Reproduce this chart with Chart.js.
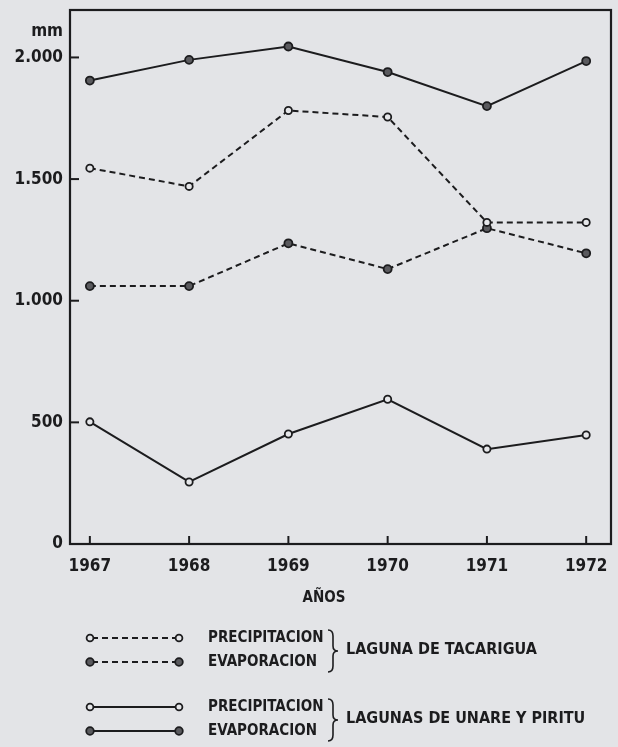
<!DOCTYPE html>
<html>
<head>
<meta charset="utf-8">
<script src="https://cdn.jsdelivr.net/npm/chart.js@4.4.1/dist/chart.umd.min.js"></script>
<style>
  html, body { margin: 0; padding: 0; background: #e3e4e7; }
  #wrap { width: 618px; height: 747px; }
</style>
</head>
<body>
<div id="wrap"><canvas id="c" width="618" height="747"></canvas></div>
<script>
// ---- data ----
const years = [1967, 1968, 1969, 1970, 1971, 1972];
const tacarigua_precipitacion = [1545, 1470, 1782, 1755, 1322, 1322];
const tacarigua_evaporacion   = [1060, 1060, 1236, 1130, 1298, 1195];
const unare_precipitacion     = [502, 255, 452, 595, 390, 448];
const unare_evaporacion       = [1905, 1990, 2045, 1940, 1800, 1985];
const yTickValues = [0, 500, 1000, 1500, 2000];
const yTickLabels = ['0', '500', '1.000', '1.500', '2.000'];
const xTitle = 'AÑOS';
const yUnit = 'mm';
const legendRows = [
  { label: 'PRECIPITACION', dashed: true,  filled: false },
  { label: 'EVAPORACION',   dashed: true,  filled: true  },
  { label: 'PRECIPITACION', dashed: false, filled: false },
  { label: 'EVAPORACION',   dashed: false, filled: true  }
];
const legendGroups = ['LAGUNA DE TACARIGUA', 'LAGUNAS DE UNARE Y PIRITU'];

const FONT = '"Liberation Sans Narrow", "DejaVu Sans Condensed", "Liberation Sans", sans-serif';
const INK = '#1c1c1e';
const OPEN_FILL = '#e6e7ea';
const DARK_FILL = '#5a5a5e';

function pts(vals) { return years.map((y, i) => ({ x: y, y: vals[i] })); }

function ds(label, vals, dashed, filled) {
  return {
    label, data: pts(vals),
    borderColor: INK, borderWidth: 2,
    borderDash: dashed ? [6, 4] : [],
    pointRadius: filled ? 4 : 3.6,
    pointBorderWidth: 1.8,
    pointBorderColor: INK,
    pointBackgroundColor: filled ? DARK_FILL : OPEN_FILL,
    tension: 0, fill: false
  };
}

const framePlugin = {
  id: 'frame',
  afterDraw(chart) {
    const { ctx, chartArea: a, scales } = chart;
    ctx.save();
    ctx.strokeStyle = INK;
    ctx.lineWidth = 2.2;
    ctx.strokeRect(a.left, a.top, a.right - a.left, a.bottom - a.top);
    // inward ticks
    ctx.lineWidth = 2;
    yTickValues.forEach(v => {
      const py = scales.y.getPixelForValue(v);
      if (v === 0) return;
      ctx.beginPath(); ctx.moveTo(a.left, py); ctx.lineTo(a.left + 9, py); ctx.stroke();
    });
    years.forEach(v => {
      const px = scales.x.getPixelForValue(v);
      ctx.beginPath(); ctx.moveTo(px, a.bottom); ctx.lineTo(px, a.bottom - 8); ctx.stroke();
    });
    // unit label
    ctx.fillStyle = INK;
    ctx.font = 'bold 17px ' + FONT;
    ctx.textAlign = 'right';
    ctx.textBaseline = 'middle';
    ctx.fillText(yUnit, a.left - 7, 32);
    // x title
    ctx.textAlign = 'center';
    ctx.font = 'bold 15px ' + FONT;
    ctx.fillText(xTitle, 324, 598);

    // legend
    const rowY = [638, 662, 707, 731];
    ctx.font = 'bold 15px ' + FONT;
    legendRows.forEach((r, i) => {
      const y = rowY[i];
      ctx.strokeStyle = INK;
      ctx.lineWidth = 2;
      ctx.setLineDash(r.dashed ? [6, 4] : []);
      ctx.beginPath(); ctx.moveTo(92, y); ctx.lineTo(176, y); ctx.stroke();
      ctx.setLineDash([]);
      [90, 179].forEach(cx => {
        ctx.beginPath(); ctx.arc(cx, y, r.filled ? 3.8 : 3.4, 0, Math.PI * 2);
        ctx.fillStyle = r.filled ? DARK_FILL : OPEN_FILL;
        ctx.fill(); ctx.lineWidth = 1.8; ctx.stroke();
      });
      ctx.fillStyle = INK;
      ctx.textAlign = 'left';
      ctx.fillText(r.label, 208, y);
    });
    // braces
    function brace(x, y0, y1) {
      const m = (y0 + y1) / 2;
      ctx.beginPath();
      ctx.lineWidth = 1.6;
      ctx.moveTo(x - 4, y0);
      ctx.quadraticCurveTo(x + 1, y0, x + 1, y0 + 6);
      ctx.lineTo(x + 1, m - 5);
      ctx.quadraticCurveTo(x + 1, m, x + 6, m);
      ctx.quadraticCurveTo(x + 1, m, x + 1, m + 5);
      ctx.lineTo(x + 1, y1 - 6);
      ctx.quadraticCurveTo(x + 1, y1, x - 4, y1);
      ctx.stroke();
    }
    brace(332, 630, 672);
    brace(332, 699, 741);
    ctx.font = 'bold 16px ' + FONT;
    ctx.fillText(legendGroups[0], 346, 650);
    ctx.fillText(legendGroups[1], 346, 719);
    ctx.restore();
  }
};

new Chart(document.getElementById('c'), {
  type: 'line',
  data: {
    datasets: [
      ds('Tacarigua precipitación', tacarigua_precipitacion, true, false),
      ds('Tacarigua evaporación', tacarigua_evaporacion, true, true),
      ds('Unare y Píritu precipitación', unare_precipitacion, false, false),
      ds('Unare y Píritu evaporación', unare_evaporacion, false, true)
    ]
  },
  options: {
    responsive: false,
    animation: false,
    devicePixelRatio: 1,
    layout: { padding: { left: 0, top: 10, right: 7, bottom: 163 } },
    plugins: { legend: { display: false }, tooltip: { enabled: false } },
    scales: {
      x: {
        type: 'linear', min: 1966.8, max: 1972.25,
        grid: { display: false, drawTicks: false },
        border: { display: false },
        afterBuildTicks: s => { s.ticks = years.map(v => ({ value: v })); },
        afterFit: s => { s.height = 40; s.paddingLeft = 0; s.paddingRight = 0; },
        ticks: {
          color: INK, padding: 12,
          font: { family: FONT, size: 17, weight: 'bold' },
          callback: v => String(v)
        }
      },
      y: {
        type: 'linear', min: 0, max: 2195,
        grid: { display: false, drawTicks: false },
        border: { display: false },
        afterBuildTicks: s => { s.ticks = yTickValues.map(v => ({ value: v })); },
        afterFit: s => { s.width = 70; s.paddingTop = 0; s.paddingBottom = 0; },
        ticks: {
          color: INK, padding: 7,
          font: { family: FONT, size: 17, weight: 'bold' },
          callback: v => yTickLabels[yTickValues.indexOf(v)]
        }
      }
    }
  },
  plugins: [framePlugin]
});
</script>
</body>
</html>
